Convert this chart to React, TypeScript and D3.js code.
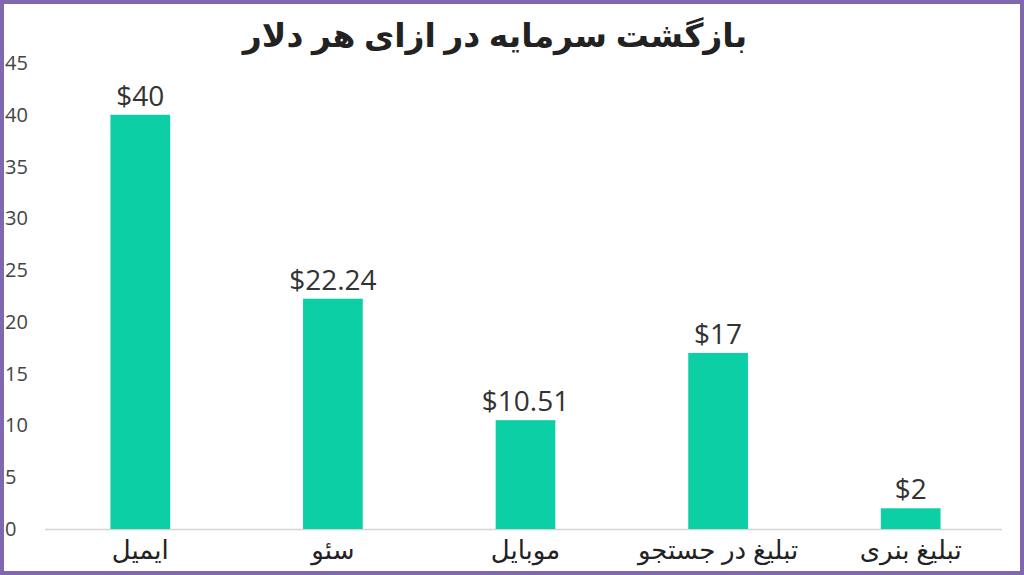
import { useEffect, useRef } from 'react';
import * as d3 from 'd3';

const channels = ['ایمیل', 'سئو', 'موبایل', 'تبلیغ در جستجو', 'تبلیغ بنری'];
const returns = [40, 22.24, 10.51, 17, 2];
const valueLabels = ['$40', '$22.24', '$10.51', '$17', '$2'];
const yTicks = [0, 5, 10, 15, 20, 25, 30, 35, 40, 45];
const title = 'بازگشت سرمایه در ازای هر دلار';

function App() {
  const svgRef = useRef<SVGSVGElement | null>(null);
  const width = 1024;
  const height = 575;
  const margin = { top: 63, right: 17, bottom: 46, left: 44 };

  useEffect(() => {
    const svg = d3.select(svgRef.current).attr('viewBox', `0,0,${width},${height}`);
    svg.selectAll('*').remove();

    const font = '"Open Sans", "DejaVu Sans", sans-serif';

    svg.append('rect').attr('width', width).attr('height', height).attr('fill', '#fff');

    const xScale = d3
      .scaleBand()
      .domain(channels)
      .range([margin.left, width - margin.right])
      .paddingInner(0.69)
      .paddingOuter(0.345);

    const yScale = d3
      .scaleLinear()
      .domain([0, 45])
      .range([height - margin.bottom, margin.top]);

    // y tick labels, left aligned, no axis line
    svg
      .append('g')
      .selectAll('text')
      .data(yTicks)
      .enter()
      .append('text')
      .attr('x', 5)
      .attr('y', (d) => yScale(d))
      .attr('dy', '0.35em')
      .attr('font-family', font)
      .attr('font-size', 20)
      .attr('fill', '#444')
      .text((d) => d);

    // baseline
    svg
      .append('line')
      .attr('x1', margin.left + 1)
      .attr('x2', width - 22)
      .attr('y1', yScale(0) + 0.5)
      .attr('y2', yScale(0) + 0.5)
      .attr('stroke', '#d4d4d4')
      .attr('stroke-width', 1.5);

    const data = channels.map((c, i) => ({ channel: c, value: returns[i], label: valueLabels[i] }));

    svg
      .append('g')
      .selectAll('rect')
      .data(data)
      .enter()
      .append('rect')
      .attr('x', (d) => xScale(d.channel) as number)
      .attr('y', (d) => yScale(d.value))
      .attr('width', xScale.bandwidth())
      .attr('height', (d) => yScale(0) - yScale(d.value))
      .attr('fill', '#0dcfa6');

    svg
      .append('g')
      .selectAll('text')
      .data(data)
      .enter()
      .append('text')
      .attr('x', (d) => (xScale(d.channel) as number) + xScale.bandwidth() / 2)
      .attr('y', (d) => yScale(d.value) - 9)
      .attr('text-anchor', 'middle')
      .attr('font-family', font)
      .attr('font-size', 28)
      .attr('fill', '#333')
      .text((d) => d.label);

    svg
      .append('g')
      .selectAll('text')
      .data(data)
      .enter()
      .append('text')
      .attr('x', (d) => (xScale(d.channel) as number) + xScale.bandwidth() / 2)
      .attr('y', yScale(0) + 30)
      .attr('text-anchor', 'middle')
      .attr('direction', 'rtl')
      .attr('font-family', font)
      .attr('font-size', 26)
      .attr('fill', '#222')
      .text((d) => d.channel);

    svg
      .append('text')
      .attr('x', 495)
      .attr('y', 47)
      .attr('text-anchor', 'middle')
      .attr('direction', 'rtl')
      .attr('font-family', font)
      .attr('font-weight', 'bold')
      .attr('font-size', 33)
      .attr('fill', '#222')
      .text(title);

    // purple frame
    svg
      .append('rect')
      .attr('x', 2)
      .attr('y', 2)
      .attr('width', width - 4)
      .attr('height', height - 4)
      .attr('fill', 'none')
      .attr('stroke', '#7f68b0')
      .attr('stroke-width', 4);
  }, []);

  return (
    <svg
      ref={svgRef}
      width={width}
      height={height}
      style={{ position: 'fixed', top: 0, left: 0, display: 'block' }}
    />
  );
}

export default App;
